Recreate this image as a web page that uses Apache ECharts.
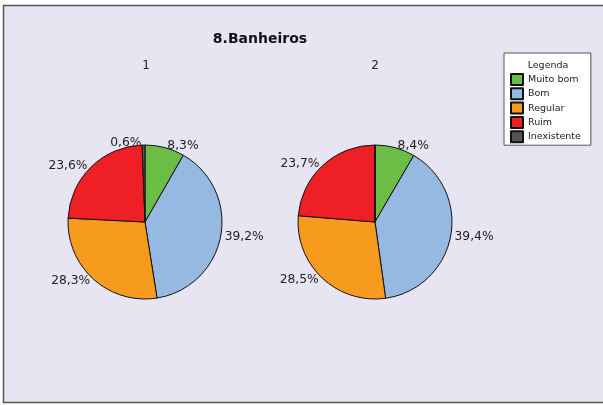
<!DOCTYPE html>
<html>
<head>
<meta charset="utf-8">
<script src="https://cdn.jsdelivr.net/npm/echarts@6/dist/echarts.min.js"></script>
<style>
  html, body { margin: 0; padding: 0; background: #ffffff; }
  #chart { width: 603px; height: 405px; }
</style>
</head>
<body>
<div id="chart"></div>
<script>
var chartTitle = '8.Banheiros';
var legendTitle = 'Legenda';
var categories = ['Muito bom', 'Bom', 'Regular', 'Ruim', 'Inexistente'];
var seriesNames = ['1', '2'];
var values1 = [8.3, 39.2, 28.3, 23.6, 0.6];
var values2 = [8.4, 39.4, 28.5, 23.7, 0];
var colors = ['#6cbd45', '#95b9e1', '#f79b1e', '#ee1f25', '#555555'];

var FONT = 'DejaVu Sans';

function buildData(vals) {
  return categories.map(function (c, i) {
    var item = { name: c, value: vals[i] };
    if (vals[i] === 0) { item.label = { show: false }; }
    return item;
  });
}

function pieSeries(name, vals, cx) {
  return {
    type: 'pie',
    name: name,
    center: [cx, 222],
    radius: 77,
    startAngle: 90,
    clockwise: true,
    avoidLabelOverlap: false,
    animation: false,
    silent: true,
    itemStyle: { borderColor: '#111', borderWidth: 1 },
    label: {
      show: true,
      position: 'outside',
      distanceToLabelLine: 2,
      color: '#222',
      fontFamily: FONT,
      fontSize: 12.3,
      formatter: function (p) { return p.value.toFixed(1).replace('.', ',') + '%'; }
    },
    labelLine: { show: false, length: 2, length2: 0 },
    emphasis: { disabled: true },
    data: buildData(vals)
  };
}

var chart = echarts.init(document.getElementById('chart'), null, { renderer: 'canvas' });
chart.setOption({
  color: colors,
  animation: false,
  graphic: [
    { type: 'rect', z: -10, shape: { x: 3.5, y: 5.5, width: 610, height: 397 },
      style: { fill: '#e7e5f2', stroke: '#555', lineWidth: 1.5 } },
    { type: 'text', z: 100, x: 260, y: 39,
      style: { text: chartTitle, fontFamily: FONT, fontSize: 14, fontWeight: 'bold', fill: '#111', align: 'center', verticalAlign: 'middle' } },
    { type: 'text', z: 100, x: 146, y: 66,
      style: { text: seriesNames[0], fontFamily: FONT, fontSize: 12, fill: '#222', align: 'center', verticalAlign: 'middle' } },
    { type: 'text', z: 100, x: 375, y: 66,
      style: { text: seriesNames[1], fontFamily: FONT, fontSize: 12, fill: '#222', align: 'center', verticalAlign: 'middle' } },
    { type: 'text', z: 100, x: 548, y: 66,
      style: { text: legendTitle, fontFamily: FONT, fontSize: 9.5, fill: '#222', align: 'center', verticalAlign: 'middle' } }
  ],
  legend: {
    orient: 'vertical',
    left: 504,
    top: 53,
    padding: [20, 10, 2, 6],
    backgroundColor: '#ffffff',
    borderColor: '#555',
    borderWidth: 1,
    borderRadius: 0,
    itemWidth: 12,
    itemHeight: 11,
    itemGap: 1.3,
    icon: 'rect',
    selectedMode: false,
    textStyle: { fontFamily: FONT, fontSize: 9.5, color: '#222', lineHeight: 11 },
    data: categories
  },
  series: [
    pieSeries(seriesNames[0], values1, 145),
    pieSeries(seriesNames[1], values2, 375)
  ]
});
</script>
</body>
</html>
